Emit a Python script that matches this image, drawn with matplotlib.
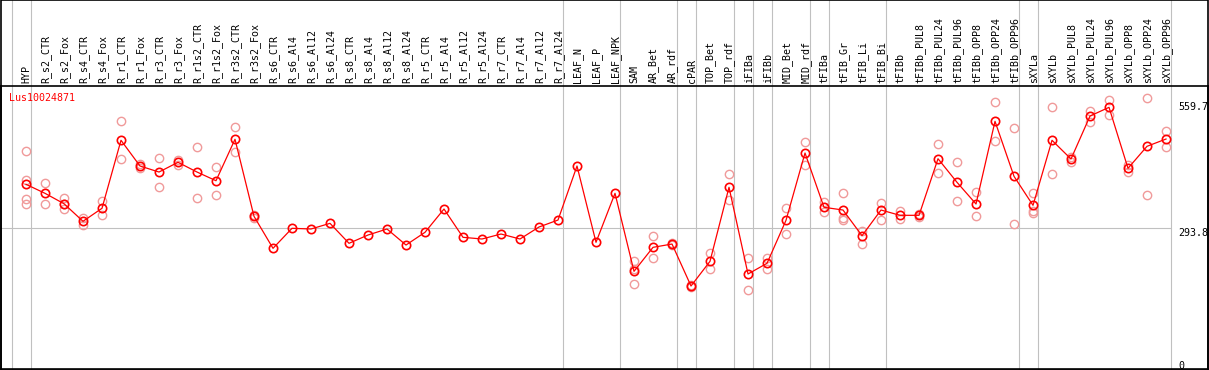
import numpy as np
import matplotlib
matplotlib.use("Agg")
import matplotlib.pyplot as plt

# sample names along the top
samples = ["HYP", "R_s2_CTR", "R_s2_Fox", "R_s4_CTR", "R_s4_Fox", "R_r1_CTR", "R_r1_Fox",
           "R_r3_CTR", "R_r3_Fox", "R_r1s2_CTR", "R_r1s2_Fox", "R_r3s2_CTR", "R_r3s2_Fox",
           "R_s6_CTR", "R_s6_Al4", "R_s6_Al12", "R_s6_Al24", "R_s8_CTR", "R_s8_Al4",
           "R_s8_Al12", "R_s8_Al24", "R_r5_CTR", "R_r5_Al4", "R_r5_Al12", "R_r5_Al24",
           "R_r7_CTR", "R_r7_Al4", "R_r7_Al12", "R_r7_Al24", "LEAF_N", "LEAF_P", "LEAF_NPK",
           "SAM", "AR_Bet", "AR_rdf", "cPAR", "TOP_Bet", "TOP_rdf", "iFIBa", "iFIBb",
           "MID_Bet", "MID_rdf", "tFIBa", "tFIB_Gr", "tFIB_Li", "tFIB_Bi", "tFIBb",
           "tFIBb_PUL8", "tFIBb_PUL24", "tFIBb_PUL96", "tFIBb_OPP8", "tFIBb_OPP24",
           "tFIBb_OPP96", "sXYLa", "sXYLb", "sXYLb_PUL8", "sXYLb_PUL24", "sXYLb_PUL96",
           "sXYLb_OPP8", "sXYLb_OPP24", "sXYLb_OPP96"]

# mean expression per sample
means = [389.6, 369.7, 346.7, 307.9, 336.6, 486.8, 430.0, 416.7, 438.2, 416.7, 397.5,
         489.0, 318.9, 248.2, 292.4, 290.9, 303.4, 259.3, 277.6, 290.9, 255.5, 283.6,
         335.0, 272.5, 268.8, 279.8, 268.8, 295.3, 310.7, 430.0, 261.5, 369.7, 197.4,
         250.4, 257.7, 165.0, 219.5, 383.0, 191.5, 215.1, 310.1, 458.7, 338.8, 332.8,
         276.1, 332.8, 321.1, 321.1, 446.1, 394.0, 346.1, 528.7, 407.2, 343.2, 486.8,
         445.5, 540.4, 559.6, 424.9, 473.5, 489.6]

# replicate values (empty where only one sample)
reps = [[463.1, 399.1, 357.8, 345.4], [391.8, 345.4], [360.0, 346.7, 335.0], [315.8, 300.4],
        [352.7, 321.8], [528.7, 444.8], [434.4, 425.6], [447.0, 384.3], [443.2, 432.2],
        [471.3, 358.7], [427.1, 365.3], [516.1, 460.2], [316.0, 322.0],
        [], [], [], [], [], [], [], [], [], [], [], [], [], [], [], [], [], [], [],
        [220.9, 203.2, 168.7], [274.7, 226.2], [255.0, 260.0], [162.0, 168.0],
        [237.9, 201.9], [411.7, 354.2], [226.2, 155.5], [227.5, 203.2], [336.6, 280.5],
        [482.3, 431.5], [350.0, 328.0], [369.7, 314.5, 310.7], [286.4, 257.1],
        [348.3, 311.4], [329.9, 312.3], [324.0, 316.7], [477.9, 415.2], [438.2, 352.0],
        [372.6, 318.9], [570.7, 484.5], [513.3, 301.2], [370.4, 330.6, 326.9],
        [559.6, 411.7], [450.5, 438.2], [550.8, 527.8], [575.1, 543.3], [432.2, 417.4],
        [580.2, 365.3], [507.3, 471.3]]

# group separators sit after these sample indices
separators = [-1, 0, 28, 31, 34, 35, 37, 38, 39, 41, 42, 45, 52, 53, 60]
right_labels = [559.7, 293.8, 0]
gene = "Lus10024871"

fig = plt.figure(figsize=(12.09, 3.70), dpi=100)
ax = fig.add_axes([0.5 / 1209, 1 / 370, 1207.5 / 1209, 283 / 370])

x = np.arange(len(samples))
ax.set_xlim(-1.342, 62.21)
ax.set_ylim(-18.3, 606.7)

grey = "#c0c0c0"
for s in separators:
    ax.axvline(s + 0.25, ymin=0, ymax=1.31, color=grey, lw=0.8, clip_on=False, zorder=1)
ax.axhline(293.8, xmin=0, xmax=1169.5 / 1207.5, color=grey, lw=0.8, zorder=1)

# replicates behind
for i, r in enumerate(reps):
    if r:
        ax.plot([i] * len(r), r, "o", ms=6, mfc="none", mec="#f09a9a", mew=1.0, zorder=2)

ax.plot(x, means, "-", color="red", lw=0.9, zorder=3)
ax.plot(x, means, "o", ms=6, mfc="none", mec="red", mew=1.2, zorder=4)

mono = "DejaVu Sans Mono"
for i, name in enumerate(samples):
    ax.annotate(name, (i, 1.0), xycoords=("data", "axes fraction"), xytext=(0.5, 2.2),
                textcoords="offset points", rotation=90, ha="center", va="bottom",
                fontsize=7.2, family=mono, annotation_clip=False)

rx = (1178 - 0.5) / 1207.5
ax.text(rx, right_labels[0], f"{right_labels[0]}", transform=ax.get_yaxis_transform(),
        ha="left", va="center", fontsize=7.2, family=mono)
for v in right_labels[1:]:
    ax.text(rx, v, f"{v:g}", transform=ax.get_yaxis_transform(),
            ha="left", va="top", fontsize=7.2, family=mono)

ax.text((9.3 - 0.5) / 1207.5, 0.975, gene, transform=ax.transAxes, color="red",
        ha="left", va="top", fontsize=7.2, family=mono)

ax.set_xticks([])
ax.set_yticks([])
for sp in ax.spines.values():
    sp.set_color("black")
    sp.set_linewidth(1.2)

# outer frame of the whole picture
fig.patches.append(plt.Rectangle((0.0005, 0.001), 0.999, 0.998, transform=fig.transFigure,
                                 fill=False, edgecolor="black", lw=1.2))

fig.savefig("out.png", dpi=100)
